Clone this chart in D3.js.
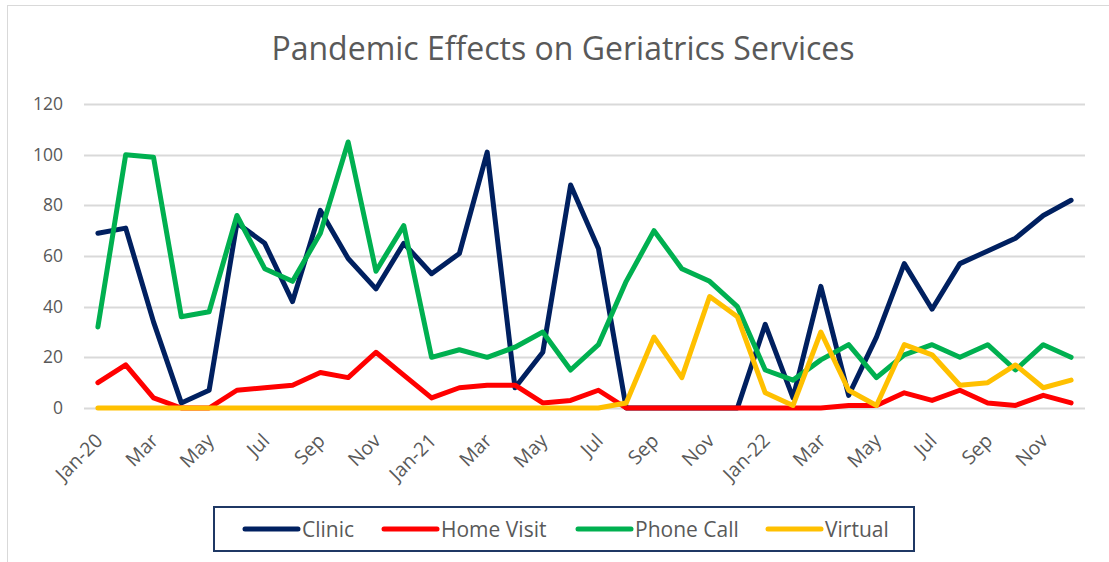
<!DOCTYPE html>
<html><head><meta charset="utf-8">
<script src="https://cdn.jsdelivr.net/npm/d3@7"></script>
<style>
html,body{margin:0;padding:0;background:#fff;}
svg{display:block;font-family:"Open Sans","Noto Sans",sans-serif;}
</style></head>
<body>
<svg id="chart" width="1109" height="562"></svg>
<script>
const months = ["Jan-20","Feb","Mar","Apr","May","Jun","Jul","Aug","Sep","Oct","Nov","Dec",
  "Jan-21","Feb","Mar","Apr","May","Jun","Jul","Aug","Sep","Oct","Nov","Dec",
  "Jan-22","Feb","Mar","Apr","May","Jun","Jul","Aug","Sep","Oct","Nov","Dec"];
const clinic    = [69,71,34,2,7,73,65,42,78,59,47,65, 53,61,101,8,22,88,63,0,0,0,0,0, 33,4,48,5,28,57,39,57,62,67,76,82];
const homeVisit = [10,17,4,0,0,7,8,9,14,12,22,13, 4,8,9,9,2,3,7,0,0,0,0,0, 0,0,0,1,1,6,3,7,2,1,5,2];
const phoneCall = [32,100,99,36,38,76,55,50,69,105,54,72, 20,23,20,24,30,15,25,50,70,55,50,40, 15,11,19,25,12,21,25,20,25,15,25,20];
const virtual   = [0,0,0,0,0,0,0,0,0,0,0,0, 0,0,0,0,0,0,0,2,28,12,44,36, 6,1,30,7,1,25,21,9,10,17,8,11];
const yTicks = [0,20,40,60,80,100,120];
const seriesNames = ["Clinic","Home Visit","Phone Call","Virtual"];
const seriesColors = ["#002060","#FF0000","#00B050","#FFC000"];
const title = "Pandemic Effects on Geriatrics Services";

const svg = d3.select("#chart");
const textColor = "#595959";

// outer chart border
svg.append("rect").attr("x",7.5).attr("y",5.5).attr("width",1120).attr("height",600)
  .attr("fill","none").attr("stroke","#d9d9d9").attr("stroke-width",1);

const idx = months.map((m,i)=>i);
const x = d3.scaleBand().domain(idx).range([84,1085]);
const y = d3.scaleLinear().domain([0,120]).range([408,104]);
const cx = i => x(i) + x.bandwidth()/2;

// title
svg.append("text").attr("x",563).attr("y",60).attr("text-anchor","middle")
  .attr("font-size",32).attr("fill",textColor).text(title);

// gridlines
svg.append("g").selectAll("line").data(yTicks).join("line")
  .attr("x1",84).attr("x2",1085).attr("y1",d=>Math.round(y(d))+0.5).attr("y2",d=>Math.round(y(d))+0.5)
  .attr("stroke","#d9d9d9").attr("stroke-width",2);

// y axis
const yAxis = svg.append("g").attr("transform","translate(63,0)")
  .call(d3.axisLeft(y).tickValues(yTicks).tickSize(0).tickPadding(0));
yAxis.select(".domain").remove();
yAxis.selectAll("text").attr("font-size",17.5).attr("fill",textColor)
  .attr("font-family","'Open Sans','Noto Sans',sans-serif");

// x axis
const xAxis = svg.append("g").attr("transform","translate(0,408)")
  .call(d3.axisBottom(x).tickValues(idx.filter(i=>i%2===0)).tickFormat(i=>months[i]).tickSize(0));
xAxis.select(".domain").remove();
xAxis.selectAll("text").attr("font-size",19.5).attr("fill",textColor)
  .attr("font-family","'Open Sans','Noto Sans',sans-serif")
  .attr("text-anchor","end").attr("dy","0.35em")
  .attr("transform","translate(-1,27) rotate(-45)");

// lines
const allSeries = [clinic, homeVisit, phoneCall, virtual];
const line = d3.line().x((d,i)=>cx(i)).y(d=>y(d));
svg.append("g").selectAll("path").data(allSeries).join("path")
  .attr("d",d=>line(d)).attr("fill","none")
  .attr("stroke",(d,i)=>seriesColors[i]).attr("stroke-width",5)
  .attr("stroke-linejoin","round").attr("stroke-linecap","round");

// legend
const lg = svg.append("g");
lg.append("rect").attr("x",214).attr("y",507).attr("width",700).attr("height",44)
  .attr("fill","#fff").attr("stroke","#1F3864").attr("stroke-width",2);
const legX = [245,384,578,768];
seriesNames.forEach((n,i)=>{
  lg.append("line").attr("x1",legX[i]).attr("x2",legX[i]+53).attr("y1",529).attr("y2",529)
    .attr("stroke",seriesColors[i]).attr("stroke-width",5).attr("stroke-linecap","round");
  lg.append("text").attr("x",legX[i]+57).attr("y",536.5).attr("font-size",21)
    .attr("fill",textColor).text(n);
});
</script>
</body></html>
